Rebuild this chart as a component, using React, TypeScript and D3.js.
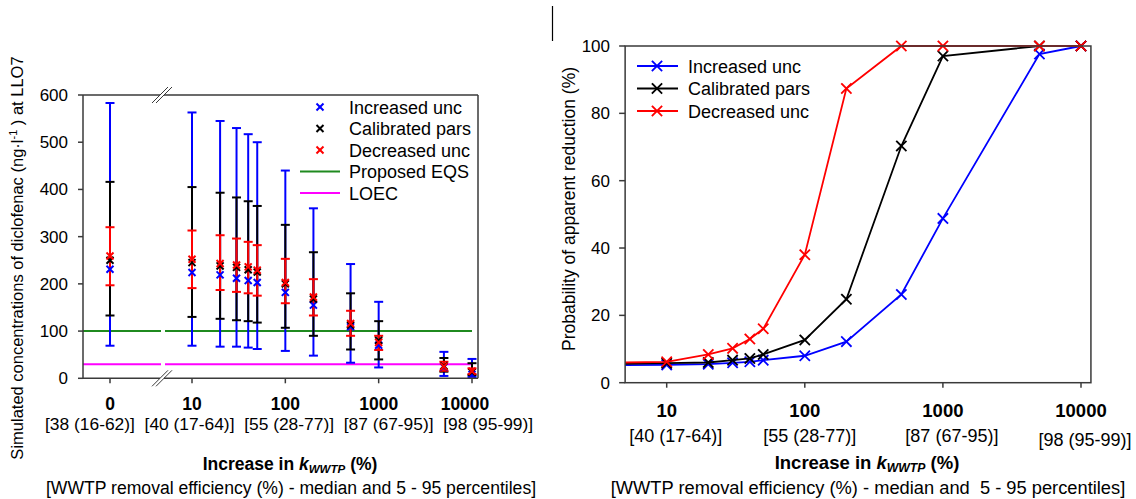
import React from 'react';
import * as d3 from 'd3';

// Increase in k_WWTP (%) — 0 is the calibrated baseline
const kIncrease = [0, 10, 20, 30, 40, 50, 100, 200, 500, 1000, 5000, 10000];

// Simulated diclofenac concentrations at LLO7 (ng/l): median, 5th and 95th percentiles
const incMedian = [231, 224, 219, 212, 207, 203, 182, 155, 109, 70, 24, 8];
const incP5 = [69, 69, 67, 67, 65, 62, 58, 48, 33, 23, 5, 3];
const incP95 = [583, 563, 545, 530, 517, 500, 440, 360, 242, 162, 56, 41];

const calMedian = [250, 245, 238, 235, 230, 225, 200, 168, 113, 80, 26, 13];
const calP5 = [133, 130, 126, 123, 121, 118, 107, 90, 61, 40, 14, 7];
const calP95 = [416, 405, 393, 383, 375, 365, 325, 267, 180, 121, 43, 32];

const decMedian = [259, 252, 243, 240, 236, 229, 203, 172, 116, 76, 25, 15];
const decP5 = [197, 191, 187, 183, 180, 175, 159, 133, 90, 60, 16, 9];
const decP95 = [320, 313, 303, 296, 289, 282, 253, 210, 143, 90, 35, 21];

const proposedEQS = 100;
const loec = 30;

// Probability of apparent reduction (%)
const probInc = [5.2, 5.3, 5.5, 5.9, 6.2, 6.7, 8.0, 12.2, 26.2, 48.8, 97.6, 100];
const probCal = [5.6, 5.8, 6.0, 6.7, 7.2, 8.4, 12.7, 24.8, 70.3, 97, 100, 100];
const probDec = [6.0, 6.2, 8.4, 10.2, 13, 16, 38, 87.4, 100, 100, 100, 100];

const leftYTicks = [0, 100, 200, 300, 400, 500, 600];
const rightYTicks = [0, 20, 40, 60, 80, 100];
const leftXTicks = [0, 10, 100, 1000, 10000];
const rightXTicks = [10, 100, 1000, 10000];
const removalLabels = ['[38 (16-62)]', '[40 (17-64)]', '[55 (28-77)]', '[87 (67-95)]', '[98 (95-99)]'];
const seriesNames = ['Increased unc', 'Calibrated pars', 'Decreased unc'];

const BLUE = '#0000ff';
const BLACK = '#000000';
const RED = '#ff0000';
const GREEN = '#1f8a1f';
const MAGENTA = '#ff00ff';
const AXIS = '#3a3a3a';
const FONT = '"Liberation Sans", Arial, Helvetica, sans-serif';

const concSeries = [
  { name: seriesNames[0], color: BLUE, med: incMedian, lo: incP5, hi: incP95 },
  { name: seriesNames[1], color: BLACK, med: calMedian, lo: calP5, hi: calP95 },
  { name: seriesNames[2], color: RED, med: decMedian, lo: decP5, hi: decP95 },
];
const probSeries = [
  { name: seriesNames[0], color: BLUE, vals: probInc },
  { name: seriesNames[1], color: BLACK, vals: probCal },
  { name: seriesNames[2], color: RED, vals: probDec },
];

function Cross({ x, y, r, color, w }: { x: number; y: number; r: number; color: string; w: number }) {
  return (
    <g stroke={color} strokeWidth={w} strokeLinecap="square">
      <line x1={x - r} y1={y - r} x2={x + r} y2={y + r} />
      <line x1={x - r} y1={y + r} x2={x + r} y2={y - r} />
    </g>
  );
}

function KTitle({ x, y, size }: { x: number; y: number; size: number }) {
  return (
    <text x={x} y={y} textAnchor="middle" fontFamily={FONT} fontSize={size} fontWeight="bold">
      Increase in <tspan fontStyle="italic">k</tspan>
      <tspan fontStyle="italic" fontSize={size * 0.66} dy={3}>WWTP</tspan>
      <tspan dy={-3}> (%)</tspan>
    </text>
  );
}

export default function App() {
  // ---------- left panel: concentrations ----------
  const L = { left: 83, right: 478, top: 95, bottom: 378.3, zeroX: 110, breakX: 162 };
  const yL = d3.scaleLinear().domain([0, 600]).range([L.bottom, L.top]);
  const xLog = d3.scaleLog().domain([10, 10000]).range([192, 472]);
  const xL = (v: number) => (v === 0 ? L.zeroX : xLog(v));

  // ---------- right panel: probability ----------
  const R = { top: 46, bottom: 382.7 };
  const xR = d3.scaleLog().domain([10, 10000]).range([666.7, 1081]);
  const R_left = xR(5);
  const R_right = xR(11800);
  const yR = d3.scaleLinear().domain([0, 100]).range([R.bottom, R.top]);
  const xRv = (v: number) => (v === 0 ? R_left : xR(v));

  const probLine = d3
    .line<number>()
    .x((_, i) => xRv(kIncrease[i]))
    .y((d) => yR(d));

  const capW = 4.5;

  return (
    <svg width={1136} height={499} style={{ position: 'absolute', left: 0, top: 0, background: '#fff' }}>
      <rect x={0} y={0} width={1136} height={499} fill="#fff" />

      {/* ===== Left panel ===== */}
      {/* reference lines with the axis break gap */}
      {[
        { v: proposedEQS, c: GREEN },
        { v: loec, c: MAGENTA },
      ].map((r) => (
        <g key={r.c} stroke={r.c} strokeWidth={2}>
          <line x1={L.left} x2={L.breakX - 1} y1={yL(r.v)} y2={yL(r.v)} />
          <line x1={L.breakX + 3} x2={xLog(10000)} y1={yL(r.v)} y2={yL(r.v)} />
        </g>
      ))}

      {/* error bars and medians */}
      {concSeries.map((s) => (
        <g key={s.name}>
          {kIncrease.map((k, i) => {
            const x = xL(k);
            return (
              <g key={k} stroke={s.color} strokeWidth={2}>
                <line x1={x} x2={x} y1={yL(s.lo[i])} y2={yL(s.hi[i])} />
                <line x1={x - capW} x2={x + capW} y1={yL(s.lo[i])} y2={yL(s.lo[i])} />
                <line x1={x - capW} x2={x + capW} y1={yL(s.hi[i])} y2={yL(s.hi[i])} />
              </g>
            );
          })}
        </g>
      ))}
      {concSeries.map((s) => (
        <g key={s.name + 'm'}>
          {kIncrease.map((k, i) => (
            <Cross key={k} x={xL(k)} y={yL(s.med[i])} r={2.8} color={s.color} w={2} />
          ))}
        </g>
      ))}

      {/* frame */}
      <g stroke={AXIS} strokeWidth={1.5} fill="none">
        <line x1={L.left} x2={L.right} y1={L.top} y2={L.top} />
        <line x1={L.left} x2={L.right} y1={L.bottom} y2={L.bottom} />
        <line x1={L.left} x2={L.left} y1={L.top} y2={L.bottom} />
        <line x1={L.right} x2={L.right} y1={L.top} y2={L.bottom} />
      </g>
      {/* axis break marks */}
      {[L.top, L.bottom].map((yy) => (
        <g key={yy}>
          <rect x={L.breakX - 2} y={yy - 2} width={4} height={4} fill="#fff" />
          <g stroke={AXIS} strokeWidth={1}>
            <line x1={L.breakX - 10} y1={yy + 8} x2={L.breakX + 6} y2={yy - 8} />
            <line x1={L.breakX - 6} y1={yy + 8} x2={L.breakX + 10} y2={yy - 8} />
          </g>
        </g>
      ))}

      {/* y axis */}
      {leftYTicks.map((t) => (
        <g key={t}>
          <line x1={L.left - 5} x2={L.left} y1={yL(t)} y2={yL(t)} stroke={AXIS} strokeWidth={1.5} />
          <text x={68} y={yL(t) + 6} textAnchor="end" fontFamily={FONT} fontSize={17}>
            {t}
          </text>
        </g>
      ))}
      <text
        transform={`translate(22.5, 258) rotate(-90)`}
        textAnchor="middle"
        fontFamily={FONT}
        fontSize={16.5}
      >
        Simulated concentrations of diclofenac (ng·l
        <tspan dy={-6} fontSize={11}>-1</tspan>
        <tspan dy={6}> ) at LLO7</tspan>
      </text>

      {/* x axis */}
      {leftXTicks.map((t, i) => (
        <g key={t}>
          <line x1={xL(t)} x2={xL(t)} y1={L.bottom} y2={L.bottom + 5} stroke={AXIS} strokeWidth={1.5} />
          <text
            x={i === leftXTicks.length - 1 ? xL(t) - 7 : xL(t)}
            y={410}
            textAnchor="middle"
            fontFamily={FONT}
            fontSize={17.5}
            fontWeight="bold"
          >
            {t}
          </text>
        </g>
      ))}
      <text x={45} y={430} fontFamily={FONT} fontSize={17.4} style={{ whiteSpace: 'pre' }}>
        {removalLabels.join('  ')}
      </text>
      <KTitle x={290} y={470} size={17.5} />
      <text x={291} y={494} textAnchor="middle" fontFamily={FONT} fontSize={17.6}>
        [WWTP removal efficiency (%) - median and 5 - 95 percentiles]
      </text>

      {/* legend */}
      {concSeries.map((s, i) => (
        <g key={s.name + 'lg'}>
          <Cross x={320} y={107 + i * 21.5} r={2.8} color={s.color} w={2} />
          <text x={349} y={107 + i * 21.5 + 6.5} fontFamily={FONT} fontSize={18}>
            {s.name}
          </text>
        </g>
      ))}
      {[
        { name: 'Proposed EQS', c: GREEN },
        { name: 'LOEC', c: MAGENTA },
      ].map((r, j) => {
        const yy = 107 + (j + 3) * 21.5;
        return (
          <g key={r.name}>
            <line x1={300} x2={340} y1={yy} y2={yy} stroke={r.c} strokeWidth={2} />
            <text x={349} y={yy + 6.5} fontFamily={FONT} fontSize={18}>
              {r.name}
            </text>
          </g>
        );
      })}

      {/* divider */}
      <line x1={552.5} x2={552.5} y1={6} y2={41} stroke="#000" strokeWidth={1.2} />

      {/* ===== Right panel ===== */}
      <defs>
        <clipPath id="rclip">
          <rect x={R_left} y={R.top - 8} width={R_right - R_left + 8} height={R.bottom - R.top + 8} />
        </clipPath>
      </defs>
      <g clipPath="url(#rclip)">
        {probSeries.map((s) => (
          <g key={s.name}>
            <path d={probLine(s.vals) || ''} fill="none" stroke={s.color} strokeWidth={1.8} />
            {kIncrease.map((k, i) =>
              k === 0 ? null : <Cross key={k} x={xRv(k)} y={yR(s.vals[i])} r={4.5} color={s.color} w={1.8} />
            )}
          </g>
        ))}
      </g>
      <g stroke={AXIS} strokeWidth={1.5} fill="none">
        <rect x={R_left} y={R.top} width={R_right - R_left} height={R.bottom - R.top} />
      </g>
      {rightYTicks.map((t) => (
        <g key={t}>
          <line x1={R_left - 6} x2={R_left} y1={yR(t)} y2={yR(t)} stroke={AXIS} strokeWidth={1.5} />
          <text x={610} y={yR(t) + 6} textAnchor="end" fontFamily={FONT} fontSize={17}>
            {t}
          </text>
        </g>
      ))}
      <text
        transform={`translate(575, 209) rotate(-90)`}
        textAnchor="middle"
        fontFamily={FONT}
        fontSize={17.5}
      >
        Probability of apparent reduction (%)
      </text>
      {rightXTicks.map((t, i) => (
        <g key={t}>
          <line x1={xR(t)} x2={xR(t)} y1={R.bottom} y2={R.bottom + 5} stroke={AXIS} strokeWidth={1.5} />
          <text x={xR(t)} y={417} textAnchor="middle" fontFamily={FONT} fontSize={18.5} fontWeight="bold">
            {t}
          </text>
          <text
            x={xR(t) + [9, 5, 9, 4][i]}
            y={i === rightXTicks.length - 1 ? 446 : 442}
            textAnchor="middle"
            fontFamily={FONT}
            fontSize={18}
          >
            {removalLabels[i + 1]}
          </text>
        </g>
      ))}
      <KTitle x={867} y={469} size={18.5} />
      <text x={868} y={494} textAnchor="middle" fontFamily={FONT} fontSize={18.3} style={{ whiteSpace: 'pre' }}>
        [WWTP removal efficiency (%) - median and  5 - 95 percentiles]
      </text>

      {/* legend */}
      {probSeries.map((s, i) => {
        const yy = 66 + i * 22.5;
        return (
          <g key={s.name + 'rl'}>
            <line x1={637} x2={678} y1={yy} y2={yy} stroke={s.color} strokeWidth={1.8} />
            <Cross x={657} y={yy} r={4.5} color={s.color} w={1.8} />
            <text x={688} y={yy + 6.5} fontFamily={FONT} fontSize={18}>
              {s.name}
            </text>
          </g>
        );
      })}
    </svg>
  );
}
